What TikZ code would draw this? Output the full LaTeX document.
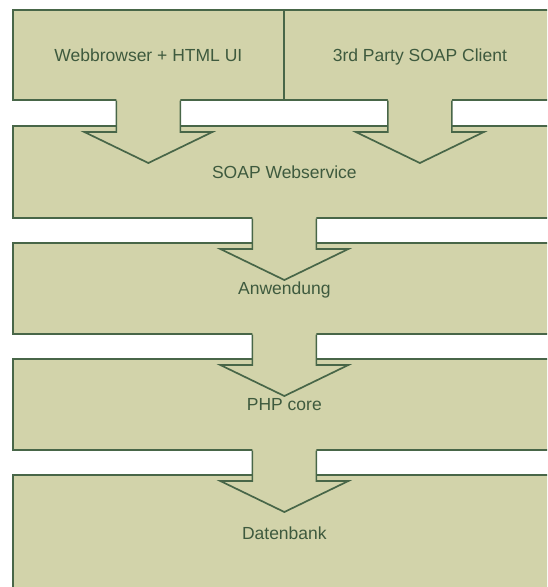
\documentclass[tikz,border=0pt]{standalone}
\usepackage{fontspec}
\setmainfont{Liberation Sans}
\usetikzlibrary{calc}
\definecolor{boxfill}{RGB}{210,211,170}
\definecolor{edge}{RGB}{72,102,72}
\definecolor{ink}{RGB}{62,90,62}

% arrow from the bottom of one layer into the top of the next
\newcommand\layerflow[2]{%
  \fill[boxfill] let \p1=(#1.south), \p2=(#2.north) in
    (\x1-32pt,\y1+3pt) -- (\x1-32pt,\y2-7pt) -- (\x1-64pt,\y2-7pt) --
    (\x1,\y2-38pt) -- (\x1+64pt,\y2-7pt) -- (\x1+32pt,\y2-7pt) --
    (\x1+32pt,\y1+3pt) -- cycle;
  \draw[flowline] let \p1=(#1.south), \p2=(#2.north) in
    (\x1-32pt,\y1) -- (\x1-32pt,\y2-7pt) -- (\x1-64pt,\y2-7pt) --
    (\x1,\y2-38pt) -- (\x1+64pt,\y2-7pt) -- (\x1+32pt,\y2-7pt) --
    (\x1+32pt,\y1);
}

\begin{document}
\begin{tikzpicture}[x=1pt,y=-1pt,
  layer/.style={fill=boxfill, draw=edge, line width=1.7pt, anchor=north west,
    inner sep=0pt, text=ink, font=\fontsize{17.5}{20}\selectfont,
    text height=12.6pt, text depth=0pt},
  flowline/.style={draw=edge, line width=1.7pt}]
\useasboundingbox (0,0) rectangle (547,587);
\clip (0,0) rectangle (547,587);

\node[layer, minimum width=271pt, minimum height=90pt] (web) at (12,9) {Webbrowser + HTML UI};
\node[layer, minimum width=272pt, minimum height=90pt] (client) at (283,9) {3rd Party SOAP Client};
\node[layer, minimum width=543pt, minimum height=92pt] (soap) at (12,125) {SOAP Webservice};
\node[layer, minimum width=543pt, minimum height=91pt] (app) at (12,242) {Anwendung};
\node[layer, minimum width=543pt, minimum height=91pt] (core) at (12,358) {PHP core};
\node[layer, minimum width=543pt, minimum height=116pt] (db) at (12,474) {Datenbank};

\layerflow{web}{soap}
\layerflow{client}{soap}
\layerflow{soap}{app}
\layerflow{app}{core}
\layerflow{core}{db}
\end{tikzpicture}
\end{document}
